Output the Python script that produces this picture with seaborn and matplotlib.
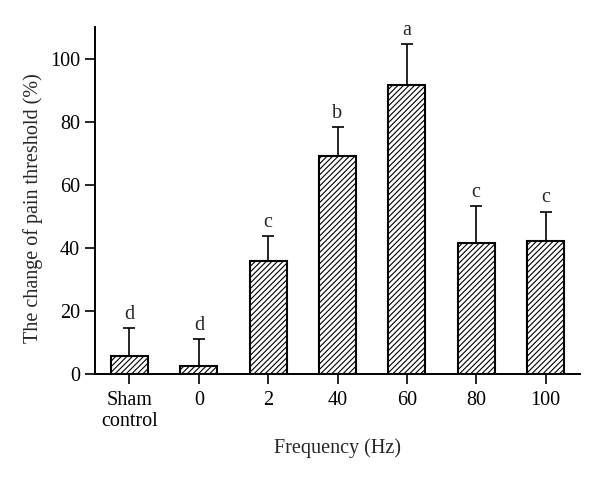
import numpy as np
import pandas as pd
import seaborn as sns
import matplotlib.pyplot as plt

groups = ["Sham\ncontrol", "0", "2", "40", "60", "80", "100"]
means = [5.8, 2.6, 35.9, 69.2, 91.7, 41.6, 42.3]
upper = [14.7, 11.1, 43.6, 78.3, 104.5, 53.3, 51.5]
letters = ["d", "d", "c", "b", "a", "c", "c"]

df = pd.DataFrame({"Frequency": groups, "Change": means})

sns.set_style("ticks")
plt.rcParams["font.family"] = ["Liberation Serif", "DejaVu Serif"]
plt.rcParams["hatch.linewidth"] = 0.8

fig = plt.figure(figsize=(6, 4.78), dpi=100)
ax = fig.add_axes([0.158, 0.2176, 0.809, 0.726])

sns.barplot(data=df, x="Frequency", y="Change", color="white",
            edgecolor="black", linewidth=1.5, width=0.535, ax=ax)
for bar in ax.patches:
    bar.set_hatch("//////")

err = np.array(upper) - np.array(means)
ax.errorbar(range(len(groups)), means, yerr=[np.zeros(len(err)), err],
            fmt="none", ecolor="black", elinewidth=1.2, capsize=4.3,
            capthick=1.2)

for i, (top, lab) in enumerate(zip(upper, letters)):
    ax.text(i, top + 1.3, lab, ha="center", va="bottom", fontsize=14.5)

ax.set_xlim(-0.5, 6.5)
ax.set_ylim(0, 110)
ax.set_yticks([0, 20, 40, 60, 80, 100])
ax.set_xlabel("Frequency (Hz)", fontsize=14.5, labelpad=5)
ax.set_ylabel("The change of pain threshold (%)", fontsize=14.5)
ax.yaxis.set_label_coords(-0.107, 0.477)
ax.tick_params(axis="both", labelsize=14.5, length=7, width=1.2, direction="out", colors="black")
ax.tick_params(axis="x", pad=5)
for s in ["left", "bottom"]:
    ax.spines[s].set_linewidth(1.4)
    ax.spines[s].set_color("black")
sns.despine(ax=ax)

fig.savefig("out.png", dpi=100)
